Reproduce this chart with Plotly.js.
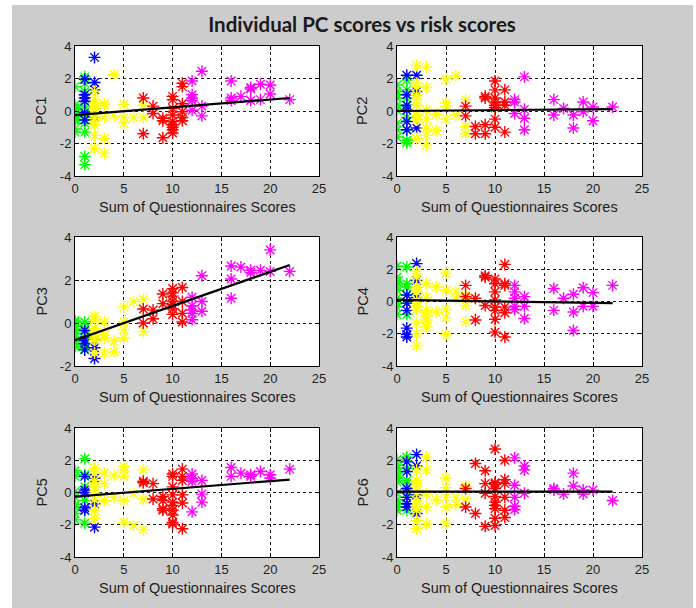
<!DOCTYPE html>
<html>
<head>
<meta charset="utf-8">
<script src="https://cdn.plot.ly/plotly-3.0.1.min.js"></script>
<style>
  html, body { margin: 0; padding: 0; background: #ffffff; }
  #frame { position: absolute; left: 12px; top: 5px; width: 681px; height: 603px; background: #cccccc; }
  #chart { position: absolute; left: 0; top: 0; width: 696px; height: 608px; }
</style>
</head>
<body>
<div id="frame"></div>
<div id="chart"></div>
<script>
// ---------------- DATA ----------------
const groupNames = ['green', 'blue', 'yellow', 'red', 'magenta'];
const groupColors = ['#00ff00', '#0000ff', '#ffff00', '#ff0000', '#ff00ff'];
const xTicks = [0, 5, 10, 15, 20, 25];
const yTicksFull = [-4, -2, 0, 2, 4];
const yTicksPC3 = [-2, 0, 2, 4];
const pcNames = ['PC1', 'PC2', 'PC3', 'PC4', 'PC5', 'PC6'];
const fitX = [0, 22];

// PC1
const pc1GreenX = [0,0,0,0,0,0,0,0,0,0,0,1,1,1,1,1,1,1,1,1,1];
const pc1GreenY = [1.5,0.35,0.2,0.1,0.0,-0.2,-0.35,-0.5,-0.6,-1.1,-1.3,2.1,1.7,1.2,1.0,0.25,-0.35,-0.75,-1.3,-2.8,-3.3];
const pc1BlueX = [1,1,1,1,1,1,2,2,2,2];
const pc1BlueY = [1.95,1.0,0.8,0.6,-0.1,-0.55,3.3,1.75,1.3,-0.4];
const pc1YellowX = [2,2,2,2,2,2,2,2,2,3,3,3,3,3,4,4,5,5,5,6,7,7];
const pc1YellowY = [1.2,0.7,0.5,0.15,-0.15,-0.45,-0.85,-1.5,-2.3,0.45,0.35,-0.4,-1.7,-2.6,2.25,-0.3,0.4,-0.4,-0.75,-0.4,0.35,-0.4];
const pc1RedX = [7,7,8,8,9,9,9,10,10,10,10,10,10,10,10,10,11,11,11,11,11,11];
const pc1RedY = [0.8,-1.4,0.3,-0.15,-0.45,-0.6,-1.65,0.9,0.7,0.15,-0.25,-0.65,-0.85,-1.0,-1.15,-1.35,1.7,1.5,0.45,-0.05,-0.4,-0.6];
const pc1MagentaX = [12,12,12,12,12,13,13,13,16,16,16,17,18,18,18,19,19,20,20,22];
const pc1MagentaY = [1.85,1.0,0.8,0.65,0.05,2.45,0.3,-0.3,1.85,0.8,0.65,0.9,1.45,1.35,0.65,1.65,0.7,1.6,1.05,0.7];
const pc1Fit = [-0.25, 0.8];

// PC2
const pc2GreenX = [0,0,0,0,0,0,0,0,0,1,1,1,1,1,1,1,1];
const pc2GreenY = [1.6,1.2,1.0,0.8,0.35,0.05,-0.75,-1.15,-1.6,1.9,1.3,0.8,0.35,-0.4,-1.15,-1.8,-1.95];
const pc2BlueX = [1,1,1,1,1,1,2,2,2];
const pc2BlueY = [2.2,1.0,0.35,0.05,-0.65,-1.15,2.2,1.2,-1.05];
const pc2YellowX = [2,2,2,2,2,2,2,2,2,3,3,3,3,3,3,3,4,4,5,5,5,5,6,6,7,7,7];
const pc2YellowY = [2.8,1.7,1.5,1.0,0.7,0.35,-0.25,-0.55,-1.7,2.7,1.45,0.05,-0.5,-1.05,-1.5,-2.1,-0.2,-1.2,1.95,0.5,0.3,-0.5,2.15,-0.25,0.7,-0.95,-1.4];
const pc2RedX = [7,7,8,8,9,9,9,9,10,10,10,10,10,10,10,10,11,11,11,11];
const pc2RedY = [0.3,-0.3,-0.95,-1.4,0.9,0.8,-0.85,-1.4,1.85,1.3,0.8,0.5,0.35,0.2,-0.5,-1.0,1.3,0.55,0.35,-1.3];
const pc2MagentaX = [12,12,12,13,13,13,13,16,16,17,18,18,19,19,20,20,22];
const pc2MagentaY = [0.7,0.55,-0.15,2.1,0.1,-0.45,-1.15,0.7,-0.25,0.15,-0.25,-1.05,0.55,-0.05,0.25,-0.6,0.25];
const pc2Fit = [0.0, 0.12];

// PC3
const pc3GreenX = [0,0,0,0,0,0,0,0,0,1,1,1,1,1,1];
const pc3GreenY = [0.1,0.05,-0.15,-0.3,-0.5,-0.65,-0.85,-1.0,-1.1,0.05,-0.25,-0.5,-0.7,-1.0,-1.2];
const pc3BlueX = [1,1,1,1,2,2,2];
const pc3BlueY = [-0.35,-0.8,-0.95,-1.25,-0.8,-1.15,-1.65];
const pc3YellowX = [2,2,2,2,2,2,3,3,3,3,4,4,5,5,5,5,6,7,7];
const pc3YellowY = [0.3,0.15,-0.25,-0.55,-0.8,-1.4,0.05,-0.55,-0.7,-1.4,-0.85,-1.35,0.75,0.05,-0.3,-0.7,1.0,1.1,-0.4];
const pc3RedX = [7,7,8,8,9,9,10,10,10,10,10,10,10,11,11,11,11];
const pc3RedY = [0.65,0.0,0.6,0.2,1.35,0.9,1.6,1.4,1.25,1.0,0.85,0.65,0.4,1.65,1.0,0.45,0.05];
const pc3MagentaX = [12,12,12,12,12,13,13,13,16,16,16,17,18,18,19,20,20,22];
const pc3MagentaY = [1.2,0.8,0.6,0.45,0.15,2.2,1.0,0.55,2.65,2.05,1.15,2.6,2.45,2.35,2.45,3.4,2.4,2.4];
const pc3Fit = [-0.8, 2.7];

// PC4
const pc4GreenX = [0,0,0,0,0,0,0,0,0,1,1,1,1,1,1];
const pc4GreenY = [2.2,1.5,1.2,1.0,0.7,0.2,-0.1,-0.35,-0.8,2.15,1.1,0.9,0.4,-0.1,-0.8];
const pc4BlueX = [1,1,1,1,1,1,2,2,2];
const pc4BlueY = [0.4,-0.1,-0.55,-1.65,-2.05,-2.2,2.35,1.3,0.25];
const pc4YellowX = [2,2,2,2,2,2,2,2,2,2,3,3,3,3,3,3,4,4,5,5,5,5,5,6,6,7,7,7];
const pc4YellowY = [1.85,1.5,0.9,0.6,0.1,-0.3,-0.5,-1.35,-2.0,-2.75,1.1,0.25,-0.55,-0.9,-1.15,-1.55,0.9,-0.65,1.75,0.7,-0.5,-1.0,-2.05,0.6,0.25,0.4,-0.25,-1.25];
const pc4RedX = [7,7,8,8,9,9,9,10,10,10,10,10,10,10,10,11,11,11,11,11,11];
const pc4RedY = [1.0,0.3,0.2,-1.15,1.6,1.5,-0.25,1.4,1.1,0.6,0.1,-0.35,-0.55,-1.1,-1.9,2.3,1.1,1.0,-0.35,-0.7,-2.2];
const pc4MagentaX = [12,12,12,12,12,13,13,13,16,16,17,18,18,18,19,19,20,20,22];
const pc4MagentaY = [1.0,0.6,0.2,-0.3,-0.5,0.3,-0.3,-1.05,0.8,-0.55,0.2,0.45,-0.65,-1.8,0.85,-0.3,0.55,-0.3,1.0];
const pc4Fit = [0.1, -0.1];

// PC5
const pc5GreenX = [0,0,0,0,0,0,0,0,1,1,1,1,1,1];
const pc5GreenY = [1.35,1.0,0.05,-0.3,-0.75,-0.9,-1.3,-1.7,2.1,1.1,0.35,-0.5,-1.1,-1.9];
const pc5BlueX = [1,1,1,1,1,2,2,2];
const pc5BlueY = [1.0,0.15,0.0,-0.95,-1.1,0.9,-0.7,-2.15];
const pc5YellowX = [2,2,2,2,2,2,2,2,3,3,3,4,4,5,5,5,5,5,6,6,7,7,7];
const pc5YellowY = [1.5,1.2,0.75,0.35,-0.05,-0.45,-1.1,-1.6,1.2,0.55,-0.5,1.05,-0.3,1.6,1.4,1.0,-0.5,-1.85,-0.05,-2.05,1.4,-0.4,-2.3];
const pc5RedX = [7,7,8,8,9,9,9,9,10,10,10,10,10,10,10,10,10,10,11,11,11,11,11,11];
const pc5RedY = [0.7,0.6,0.55,-0.4,-0.25,-0.5,-1.0,-1.1,1.15,1.0,0.35,-0.15,-0.6,-0.8,-1.1,-1.4,-1.85,-1.95,1.45,1.0,0.75,-0.15,-0.65,-2.25];
const pc5MagentaX = [12,12,12,12,13,13,13,16,16,17,18,18,19,20,20,22];
const pc5MagentaY = [1.15,0.85,0.7,-1.2,0.75,-0.1,-0.6,1.55,1.0,1.2,1.1,1.0,1.3,1.1,0.9,1.45];
const pc5Fit = [-0.25, 0.8];

// PC6
const pc6GreenX = [0,0,0,0,0,0,0,0,0,0,0,1,1,1,1,1,1,1];
const pc6GreenY = [2.05,1.7,1.5,1.2,0.9,0.65,-0.05,-0.45,-0.7,-0.9,-1.1,2.2,1.5,0.75,0.55,-0.05,-0.7,-1.1];
const pc6BlueX = [1,1,1,1,1,1,2,2,2,2];
const pc6BlueY = [1.9,1.3,0.25,-0.3,-0.7,-0.9,2.35,1.65,-0.15,-1.3];
const pc6YellowX = [2,2,2,2,2,2,2,2,2,3,3,3,3,3,4,5,5,5,5,5,6,6,7,7];
const pc6YellowY = [1.4,0.75,0.4,-0.05,-0.5,-0.9,-1.1,-1.75,-2.25,2.2,1.4,-0.1,-0.9,-1.95,-0.45,0.9,0.3,-0.3,-0.9,-1.9,-0.3,-0.75,0.4,-0.4];
const pc6RedX = [7,7,8,8,9,9,9,9,10,10,10,10,10,10,10,10,10,10,11,11,11,11,11,11];
const pc6RedY = [0.25,-0.9,1.8,-1.3,1.35,0.55,-0.05,-2.1,2.7,0.6,0.5,0.25,-0.25,-0.6,-0.8,-1.0,-1.6,-2.05,2.0,0.8,0.55,-0.3,-1.1,-1.55];
const pc6MagentaX = [12,12,12,12,12,13,13,13,16,16,17,18,18,19,19,20,22];
const pc6MagentaY = [2.15,0.45,-0.3,-0.85,-1.05,1.65,1.4,-0.05,0.25,0.15,-0.1,1.2,0.4,0.15,-0.1,0.15,-0.5];
const pc6Fit = [0.05, 0.05];

// ---------------- BUILD ----------------
const pcData = [
  {x: [pc1GreenX, pc1BlueX, pc1YellowX, pc1RedX, pc1MagentaX], y: [pc1GreenY, pc1BlueY, pc1YellowY, pc1RedY, pc1MagentaY], fit: pc1Fit},
  {x: [pc2GreenX, pc2BlueX, pc2YellowX, pc2RedX, pc2MagentaX], y: [pc2GreenY, pc2BlueY, pc2YellowY, pc2RedY, pc2MagentaY], fit: pc2Fit},
  {x: [pc3GreenX, pc3BlueX, pc3YellowX, pc3RedX, pc3MagentaX], y: [pc3GreenY, pc3BlueY, pc3YellowY, pc3RedY, pc3MagentaY], fit: pc3Fit},
  {x: [pc4GreenX, pc4BlueX, pc4YellowX, pc4RedX, pc4MagentaX], y: [pc4GreenY, pc4BlueY, pc4YellowY, pc4RedY, pc4MagentaY], fit: pc4Fit},
  {x: [pc5GreenX, pc5BlueX, pc5YellowX, pc5RedX, pc5MagentaX], y: [pc5GreenY, pc5BlueY, pc5YellowY, pc5RedY, pc5MagentaY], fit: pc5Fit},
  {x: [pc6GreenX, pc6BlueX, pc6YellowX, pc6RedX, pc6MagentaX], y: [pc6GreenY, pc6BlueY, pc6YellowY, pc6RedY, pc6MagentaY], fit: pc6Fit}
];

const W = 696, H = 608;
const colPx = [[75, 319], [397, 642]];
const rowPx = [[46, 176], [237, 366], [428, 557]];
const yTitleXPx = [41, 362];
const xTitleYPx = [207, 397, 588];

const tickFont = {family: 'Liberation Sans, Arial, sans-serif', size: 13, color: '#1e1e1e'};
const labelFont = {family: 'Liberation Sans, Arial, sans-serif', size: 14.5, color: '#1e1e1e'};

const traces = [];
const layout = {
  width: W, height: H,
  margin: {l: 0, r: 0, t: 0, b: 0, pad: 0},
  paper_bgcolor: 'rgba(0,0,0,0)',
  plot_bgcolor: '#ffffff',
  showlegend: false,
  title: {
    text: 'Individual PC scores vs risk scores',
    font: {family: 'Lato, Open Sans, sans-serif', size: 20.5, weight: 'bold', color: '#1a1a1a'},
    x: 362 / W, xanchor: 'center', y: 1 - 25 / H, yanchor: 'middle'
  },
  annotations: []
};

for (let i = 0; i < 6; i++) {
  const col = i % 2, row = Math.floor(i / 2);
  const n = i + 1;
  const xa = 'x' + (n === 1 ? '' : n), ya = 'y' + (n === 1 ? '' : n);
  const xKey = 'xaxis' + (n === 1 ? '' : n), yKey = 'yaxis' + (n === 1 ? '' : n);
  const d = pcData[i];
  for (let g = 0; g < groupNames.length; g++) {
    traces.push({
      type: 'scatter', mode: 'markers', name: groupNames[g],
      x: d.x[g], y: d.y[g], xaxis: xa, yaxis: ya,
      marker: {symbol: 'asterisk-open', size: 10, color: groupColors[g], line: {color: groupColors[g], width: 1.4}},
      hoverinfo: 'x+y'
    });
  }
  traces.push({
    type: 'scatter', mode: 'lines', name: 'fit',
    x: fitX, y: d.fit, xaxis: xa, yaxis: ya,
    line: {color: '#000000', width: 2.2}
  });
  const yT = (i === 2) ? yTicksPC3 : yTicksFull;
  const common = {
    showline: true, linecolor: '#000000', linewidth: 1, mirror: 'ticks',
    ticks: 'inside', ticklen: 4, tickwidth: 1, tickcolor: '#000000',
    showgrid: true, gridcolor: '#1a1a1a', gridwidth: 1, griddash: '3px,3px',
    zeroline: false, tickfont: tickFont, fixedrange: true
  };
  layout[xKey] = Object.assign({}, common, {
    domain: [colPx[col][0] / W, colPx[col][1] / W],
    anchor: ya, range: [xTicks[0], xTicks[xTicks.length - 1]],
    tickmode: 'array', tickvals: xTicks, ticktext: xTicks.map(String)
  });
  layout[yKey] = Object.assign({}, common, {
    domain: [1 - rowPx[row][1] / H, 1 - rowPx[row][0] / H],
    anchor: xa, range: [yT[0], yT[yT.length - 1]],
    tickmode: 'array', tickvals: yT, ticktext: yT.map(String)
  });
  layout.annotations.push({
    text: 'Sum of Questionnaires Scores', xref: 'paper', yref: 'paper',
    x: (colPx[col][0] + colPx[col][1]) / 2 / W, y: 1 - xTitleYPx[row] / H,
    xanchor: 'center', yanchor: 'middle', showarrow: false, font: labelFont
  });
  layout.annotations.push({
    text: pcNames[i], xref: 'paper', yref: 'paper', textangle: -90,
    x: yTitleXPx[col] / W, y: 1 - (rowPx[row][0] + rowPx[row][1]) / 2 / H,
    xanchor: 'center', yanchor: 'middle', showarrow: false, font: labelFont
  });
}

Plotly.newPlot('chart', traces, layout, {displayModeBar: false, staticPlot: true});
</script>
</body>
</html>
